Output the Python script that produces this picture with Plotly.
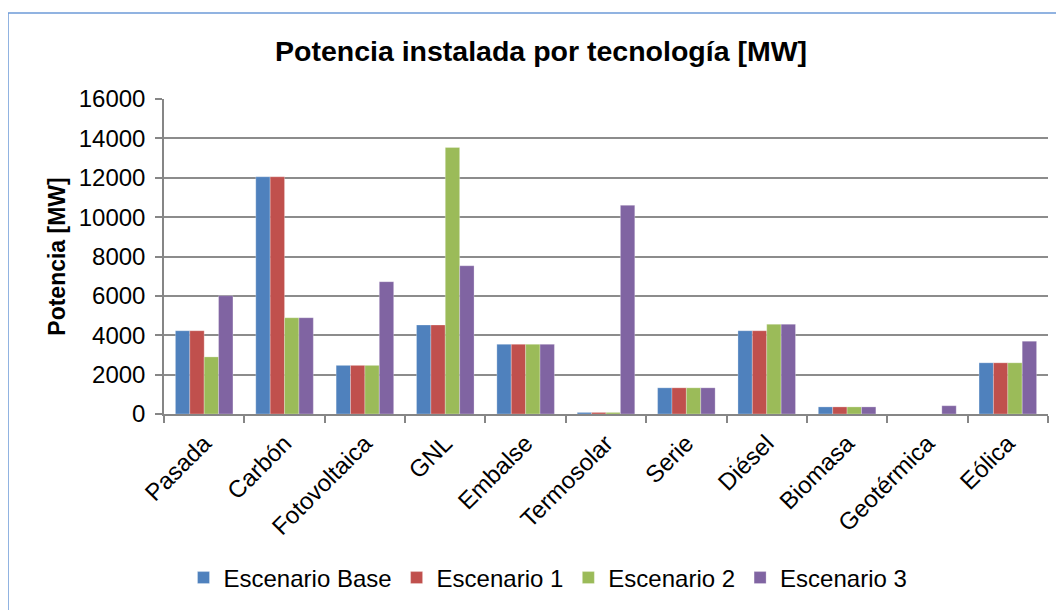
import plotly.graph_objects as go

categories = ["Pasada", "Carbón", "Fotovoltaica", "GNL", "Embalse", "Termosolar",
              "Serie", "Diésel", "Biomasa", "Geotérmica", "Eólica"]
series_names = ["Escenario Base", "Escenario 1", "Escenario 2", "Escenario 3"]
esc_base = [4230, 12050, 2470, 4520, 3540, 80, 1330, 4230, 360, 0, 2600]
esc_1 = [4230, 12050, 2470, 4520, 3540, 80, 1330, 4230, 360, 0, 2600]
esc_2 = [2900, 4890, 2470, 13540, 3540, 80, 1330, 4560, 360, 0, 2600]
esc_3 = [6010, 4890, 6720, 7530, 3540, 10600, 1330, 4560, 360, 420, 3700]
colors = ["#4F81BD", "#C0504D", "#9BBB59", "#8064A2"]

FONT = "Liberation Sans, Arial, sans-serif"
W, H = 1064, 610
OFF = 8  # page body margin
L, T = 164 - OFF, 99 - OFF
R = W - (1048 - OFF)
B = H - (414 - OFF)

fig = go.Figure()
for name, vals, col in zip(series_names, [esc_base, esc_1, esc_2, esc_3], colors):
    fig.add_trace(go.Bar(
        x=categories, y=vals, name=name,
        marker=dict(color=col, line=dict(color="rgba(255,255,255,0.45)", width=0.6)),
    ))

pw = W - L - R
ph = H - T - B
def px_x(p):
    return (p - OFF - L) / pw
def px_y(p):
    return (H - B - (p - OFF)) / ph

fig.update_layout(
    width=W, height=H, autosize=False,
    margin=dict(l=L, r=R, t=T, b=B),
    paper_bgcolor="white", plot_bgcolor="white",
    font=dict(family=FONT, size=24, color="black"),
    barmode="group", bargap=0.284, bargroupgap=0,
    title=dict(text="<b>Potencia instalada por tecnología [MW]</b>",
               font=dict(family=FONT, size=28.5, color="black"),
               x=(541 - OFF) / W, xref="container", xanchor="center",
               y=1 - (51 - OFF) / H, yref="container", yanchor="middle"),
    legend=dict(orientation="h", x=(548 - OFF) / W, xref="container", xanchor="center",
                y=1 - (578 - OFF) / H, yref="container", yanchor="middle",
                font=dict(family=FONT, size=24, color="black"),
                itemwidth=30, tracegroupgap=0),
    showlegend=True,
    xaxis=dict(type="category", showgrid=False, showline=True, linecolor="#868686",
               linewidth=1.5, ticks="outside", tickson="boundaries", ticklen=7,
               tickcolor="#868686", tickwidth=1.5, tickangle=-45,
               ticklabelstandoff=4,
               tickfont=dict(family=FONT, size=24, color="black")),
    yaxis=dict(range=[0, 16000], dtick=2000, tickformat="d", showgrid=True,
               gridcolor="#8c8c8c", gridwidth=1.5, showline=True, linecolor="#868686",
               linewidth=1.5, ticks="outside", ticklen=7, tickcolor="#868686",
               tickwidth=1.5, ticklabelstandoff=5, zeroline=False,
               tickfont=dict(family=FONT, size=24, color="black"),
               title=dict(text="<b>Potencia [MW]</b>", standoff=7,
                          font=dict(family=FONT, size=23, color="black"))),
    shapes=[dict(type="rect", xref="paper", yref="paper",
                 x0=px_x(8), x1=px_x(1063), y0=px_y(616), y1=px_y(13),
                 line=dict(color="#6E9BD8", width=1.5), fillcolor="rgba(0,0,0,0)",
                 layer="below")],
)

fig.write_html("out.html")
